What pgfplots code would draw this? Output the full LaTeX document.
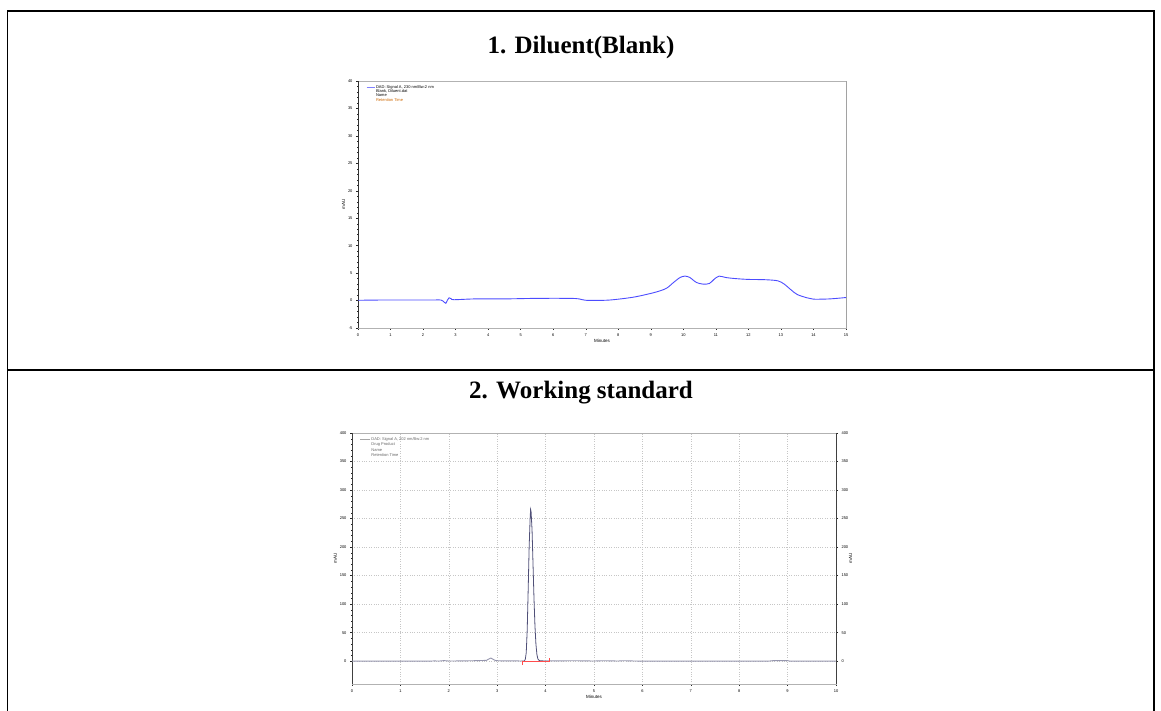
\documentclass[border=0pt]{standalone}
\usepackage{pgfplots}
\pgfplotsset{compat=1.18}
\usepackage{fontspec}
\setmainfont{Liberation Serif}
\newfontfamily\sans{Liberation Sans}
\definecolor{trace2}{RGB}{80,80,120}
\begin{document}
\begin{tikzpicture}[x=1pt,y=1pt]
\path[use as bounding box] (0,0) rectangle (1161,711);
% table frame
\draw[line width=1.6pt] (7.5,0) -- (7.5,700) -- (1154,700) -- (1154,0);
\draw[line width=1.6pt] (7.5,341) -- (1154,341);
\node[font=\bfseries\fontsize{25}{25}\selectfont] at (581,664) {1. Diluent(Blank)};
\node[font=\bfseries\fontsize{25}{25}\selectfont] at (581,318) {2. Working standard};

% ---------- chart 1 ----------
\begin{axis}[
  at={(358pt,383pt)}, anchor=south west,
  scale only axis, width=488pt, height=247pt,
  xmin=0, xmax=15, ymin=-5, ymax=40,
  xtick={0,1,...,15}, ytick={-5,0,5,...,40},
  xtick pos=left, ytick pos=left,
  minor x tick num=4, minor y tick num=4,
  tick align=outside, major tick length=2pt, minor tick length=1pt,
  axis line style={gray!60, line width=0.7pt},
  every tick/.style={gray!30!black, line width=0.4pt},
  tick label style={font=\sans\fontsize{4}{4}\selectfont},
  /pgf/number format/assume math mode=true,
  xlabel={Minutes}, ylabel={mAU},
  label style={font=\sans\fontsize{4.5}{4.5}\selectfont},
  xlabel style={yshift=4pt}, ylabel style={yshift=-4pt},
  legend style={draw=none, fill=none, at={(0.01,0.995)}, anchor=north west,
    font=\sans\fontsize{4}{4}\selectfont, row sep=-1.5pt,
    nodes={inner sep=0.8pt}},
  legend cell align=left,
]
\draw[gray!40!black, line width=0.7pt] (axis cs:0,40) -- (axis cs:0,-5) -- (axis cs:15,-5) -- (axis cs:15,40);
\addplot[blue!70, line width=0.9pt, smooth, forget plot] coordinates {
(0,0.05)(0.8,0.1)(1.5,0.1)(2.3,0.1)(2.55,0.1)(2.65,-0.3)(2.7,-0.5)(2.75,0.1)(2.8,0.5)(2.87,0.3)(2.95,0.15)
(3.6,0.3)(4.5,0.3)(5.5,0.4)(6.5,0.4)(6.8,0.3)(7.0,0.05)(7.6,0.05)(8.0,0.25)(8.5,0.65)(9.0,1.3)
(9.3,1.8)(9.5,2.3)(9.7,3.3)(9.9,4.2)(10.05,4.45)(10.2,4.2)(10.4,3.3)(10.6,3.0)(10.8,3.1)(10.95,3.9)(11.1,4.45)
(11.3,4.2)(11.6,4.0)(12.0,3.85)(12.5,3.8)(12.9,3.6)(13.1,3.0)(13.3,2.0)(13.5,1.1)(13.8,0.5)(14.0,0.25)(14.5,0.3)(15,0.55)};
\addlegendimage{legend image code/.code={\draw[blue!50, line width=1.2pt] (0pt,0pt) -- (8pt,0pt);}}
\addlegendentry{DAD: Signal A, 230 nm/Bw:2 nm}
\addlegendimage{empty legend}\addlegendentry{Blank, Diluent.dat}
\addlegendimage{empty legend}\addlegendentry{Name}
\addlegendimage{empty legend}\addlegendentry{\textcolor{orange!80!black}{Retention Time}}
\end{axis}

% ---------- chart 2 ----------
\begin{axis}[
  at={(352pt,27pt)}, anchor=south west,
  scale only axis, width=484pt, height=251pt,
  xmin=0, xmax=10, ymin=-40, ymax=400,
  xtick={0,1,...,10}, ytick={0,50,...,400},
  xtick pos=left, ytick pos=left,
  minor x tick num=4, minor y tick num=4,
  tick align=outside, major tick length=2pt, minor tick length=1pt,
  axis line style={gray!60, line width=0.8pt},
  every tick/.style={gray!30!black, line width=0.4pt},
  grid=major, major grid style={dotted, gray!45, line width=0.6pt},
  tick label style={font=\sans\fontsize{4}{4}\selectfont},
  /pgf/number format/assume math mode=true,
  xlabel={Minutes}, ylabel={mAU},
  label style={font=\sans\fontsize{4.5}{4.5}\selectfont},
  xlabel style={yshift=4pt}, ylabel style={yshift=-4pt},
  legend style={draw=none, fill=none, at={(0.01,0.995)}, anchor=north west,
    font=\sans\fontsize{4}{4}\selectfont, text=gray!80!black, row sep=-0.5pt,
    nodes={inner sep=0.8pt}},
  legend cell align=left,
]
\draw[gray!50!black, line width=0.8pt] (axis cs:0,400) -- (axis cs:0,-40) -- (axis cs:10,-40) -- (axis cs:10,400);
\addplot[trace2!60!white, line width=0.9pt, forget plot] coordinates {
(0,0)(1.6,0)(1.7,0.5)(1.8,0.2)(1.9,1)(2.0,0.3)(2.3,0.5)(2.5,0.8)(2.7,1.2)(2.78,1.5)(2.82,3.5)(2.87,5.5)(2.92,3)(2.97,1)(3.1,0.5)(3.4,0.5)(3.5,0.3)};
\addplot[trace2, line width=0.8pt, forget plot] coordinates {
(3.5,0.3)(3.56,0.5)(3.58,3)(3.60,15)(3.62,55)(3.64,125)(3.66,200)(3.68,250)(3.69,266)(3.70,262)(3.72,230)(3.74,170)(3.76,110)(3.78,62)(3.80,30)(3.82,12)(3.84,4)(3.87,1)(3.95,0.5)};
\addplot[trace2!60!white, line width=0.9pt, forget plot] coordinates {
(3.95,0.5)(4.2,0.5)(4.6,0.8)(5.0,0.3)(5.2,0.8)(5.5,0.3)(5.6,0.8)(6.0,0)(8.6,0)(8.7,1)(9.0,1)(9.05,0)(10,0)};
\addplot[red!70, line width=0.5pt, forget plot] coordinates {(3.52,-6)(3.52,0)(4.08,0)(4.08,6)};
\addlegendimage{legend image code/.code={\draw[gray!70, line width=0.6pt] (0pt,0pt) -- (10pt,0pt);}}
\addlegendentry{DAD: Signal A, 202 nm/Bw:2 nm}
\addlegendimage{empty legend}\addlegendentry{Drug Product}
\addlegendimage{empty legend}\addlegendentry{Name}
\addlegendimage{empty legend}\addlegendentry{Retention Time}
\end{axis}
\begin{axis}[
  at={(352pt,27pt)}, anchor=south west,
  scale only axis, width=484pt, height=251pt,
  xmin=0, xmax=10, ymin=-40, ymax=400,
  axis x line=none, axis y line*=right,
  ytick={0,50,...,400}, minor y tick num=4,
  tick align=outside, major tick length=2pt, minor tick length=1pt,
  axis line style={gray!50!black, line width=0.8pt},
  every tick/.style={gray!30!black, line width=0.4pt},
  tick label style={font=\sans\fontsize{4}{4}\selectfont},
  /pgf/number format/assume math mode=true,
  ylabel={mAU}, ylabel style={font=\sans\fontsize{4.5}{4.5}\selectfont, yshift=6pt},
]
\end{axis}
\end{tikzpicture}
\end{document}
